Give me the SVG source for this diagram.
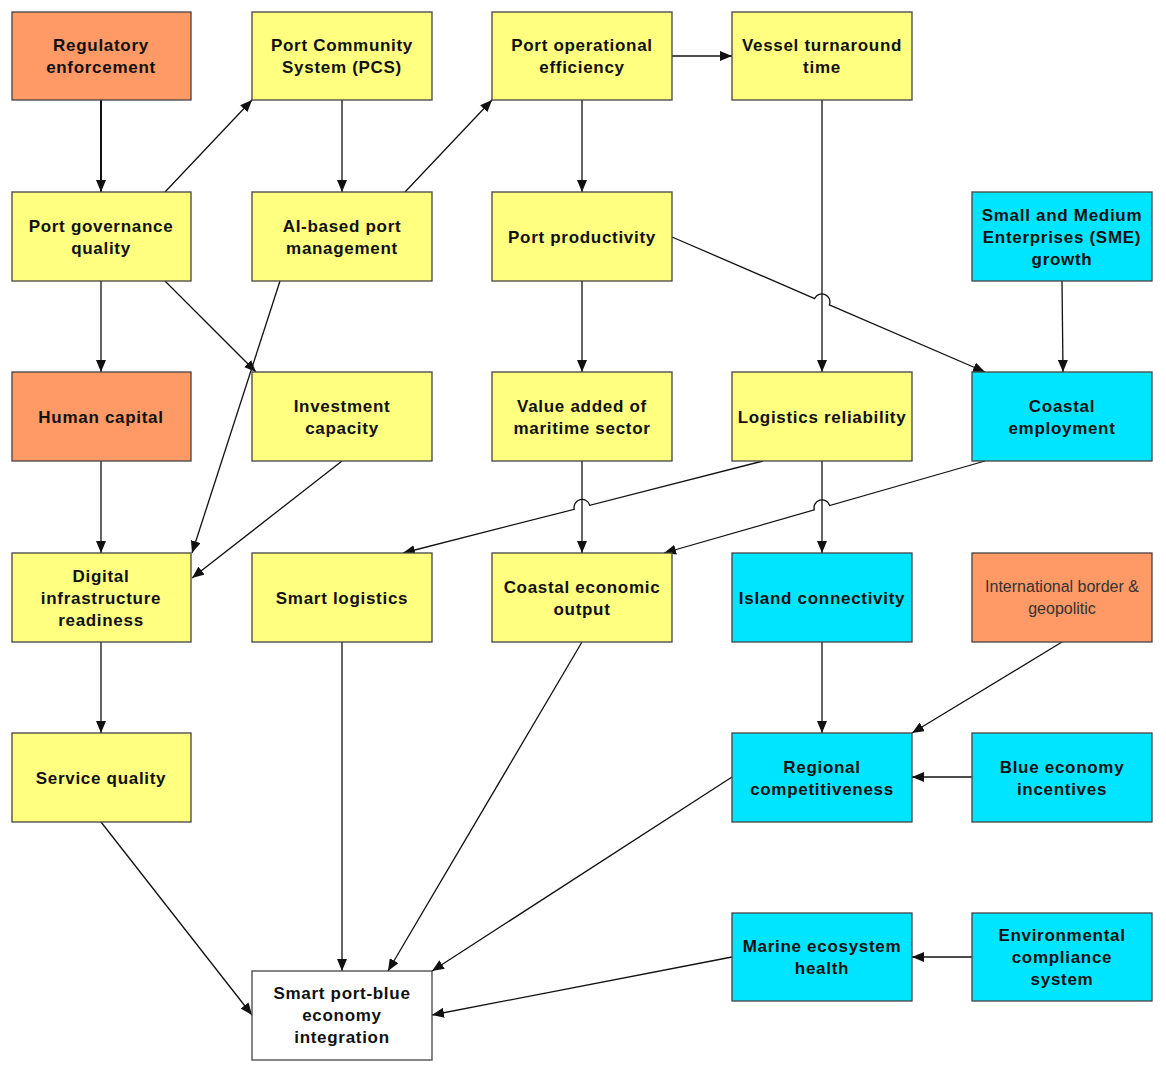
<svg xmlns="http://www.w3.org/2000/svg" width="1166" height="1072" viewBox="0 0 1166 1072">
<defs>
<marker id="ah" markerUnits="userSpaceOnUse" markerWidth="12" markerHeight="10" viewBox="0 0 12 10" refX="12" refY="5" orient="auto"><path d="M0,0 L12,5 L0,10 z" fill="#111"/></marker>
<style>
.b{stroke:#444;stroke-width:1.3}
.o{fill:#FF9966}.y{fill:#FFFF80}.c{fill:#00E5FF}.w{fill:#fff}
text{font-family:"Liberation Sans",Arial,sans-serif;font-size:17px;font-weight:bold;fill:#111;text-anchor:middle;letter-spacing:0.7px}
text.r{font-weight:normal;font-size:16px;letter-spacing:0;fill:#333}
#edges path{fill:none;stroke:#111;stroke-width:1.3;marker-end:url(#ah)}
#edges path.t{stroke-width:2}
</style>
</defs>
<rect width="1166" height="1072" fill="#fff"/>
<g id="edges">
<path class="t" d="M101,100 V192"/>
<path d="M165,192 L252,100"/>
<path d="M342,100 V192"/>
<path d="M405,192 L492,100"/>
<path d="M672,56 H732"/>
<path d="M582,100 V192"/>
<path d="M822,100 V372"/>
<path d="M672,237 L814.66,298.53 A8,8 0 0 1 829.34,304.87 L985,372"/>
<path d="M1062,281 L1063,372"/>
<path d="M101,281 V372"/>
<path d="M165,281 L256,372"/>
<path d="M280,281 L192,553"/>
<path d="M582,281 V372"/>
<path d="M101,461 V553"/>
<path d="M342,461 L192,578"/>
<path d="M763,461 L589.75,505.32 A8,8 0 0 0 574.25,509.28 L403,553"/>
<path d="M582,461 V553"/>
<path d="M985,461 L829.69,505.5 A8,8 0 0 0 814.31,509.9 L664,553"/>
<path d="M822,461 V553"/>
<path d="M101,642 V733"/>
<path d="M822,642 V733"/>
<path d="M1062,642 L912,733"/>
<path d="M972,777 H912"/>
<path d="M972,957 H912"/>
<path d="M101,822 L252,1015"/>
<path d="M342,642 V971"/>
<path d="M582,642 L388,971"/>
<path d="M732,777 L432,971"/>
<path d="M732,957 L432,1015"/>
</g>
<g id="n1"><rect class="b o" x="12" y="12" width="179" height="88"/><text x="101" y="51">Regulatory</text><text x="101" y="73">enforcement</text></g>
<g id="n2"><rect class="b y" x="252" y="12" width="180" height="88"/><text x="342" y="51">Port Community</text><text x="342" y="73">System (PCS)</text></g>
<g id="n3"><rect class="b y" x="492" y="12" width="180" height="88"/><text x="582" y="51">Port operational</text><text x="582" y="73">efficiency</text></g>
<g id="n4"><rect class="b y" x="732" y="12" width="180" height="88"/><text x="822" y="51">Vessel turnaround</text><text x="822" y="73">time</text></g>
<g id="n5"><rect class="b y" x="12" y="192" width="179" height="89"/><text x="101" y="232">Port governance</text><text x="101" y="254">quality</text></g>
<g id="n6"><rect class="b y" x="252" y="192" width="180" height="89"/><text x="342" y="232">AI-based port</text><text x="342" y="254">management</text></g>
<g id="n7"><rect class="b y" x="492" y="192" width="180" height="89"/><text x="582" y="243">Port productivity</text></g>
<g id="n8"><rect class="b c" x="972" y="192" width="180" height="89"/><text x="1062" y="221">Small and Medium</text><text x="1062" y="243">Enterprises (SME)</text><text x="1062" y="265">growth</text></g>
<g id="n9"><rect class="b o" x="12" y="372" width="179" height="89"/><text x="101" y="423">Human capital</text></g>
<g id="n10"><rect class="b y" x="252" y="372" width="180" height="89"/><text x="342" y="412">Investment</text><text x="342" y="434">capacity</text></g>
<g id="n11"><rect class="b y" x="492" y="372" width="180" height="89"/><text x="582" y="412">Value added of</text><text x="582" y="434">maritime sector</text></g>
<g id="n12"><rect class="b y" x="732" y="372" width="180" height="89"/><text x="822" y="423">Logistics reliability</text></g>
<g id="n13"><rect class="b c" x="972" y="372" width="180" height="89"/><text x="1062" y="412">Coastal</text><text x="1062" y="434">employment</text></g>
<g id="n14"><rect class="b y" x="12" y="553" width="179" height="89"/><text x="101" y="582">Digital</text><text x="101" y="604">infrastructure</text><text x="101" y="626">readiness</text></g>
<g id="n15"><rect class="b y" x="252" y="553" width="180" height="89"/><text x="342" y="604">Smart logistics</text></g>
<g id="n16"><rect class="b y" x="492" y="553" width="180" height="89"/><text x="582" y="593">Coastal economic</text><text x="582" y="615">output</text></g>
<g id="n17"><rect class="b c" x="732" y="553" width="180" height="89"/><text x="822" y="604">Island connectivity</text></g>
<g id="n18"><rect class="b o" x="972" y="553" width="180" height="89"/><text class="r" x="1062" y="592">International border &amp;</text><text class="r" x="1062" y="614">geopolitic</text></g>
<g id="n19"><rect class="b y" x="12" y="733" width="179" height="89"/><text x="101" y="784">Service quality</text></g>
<g id="n20"><rect class="b c" x="732" y="733" width="180" height="89"/><text x="822" y="773">Regional</text><text x="822" y="795">competitiveness</text></g>
<g id="n21"><rect class="b c" x="972" y="733" width="180" height="89"/><text x="1062" y="773">Blue economy</text><text x="1062" y="795">incentives</text></g>
<g id="n22"><rect class="b c" x="732" y="913" width="180" height="88"/><text x="822" y="952">Marine ecosystem</text><text x="822" y="974">health</text></g>
<g id="n23"><rect class="b c" x="972" y="913" width="180" height="88"/><text x="1062" y="941">Environmental</text><text x="1062" y="963">compliance</text><text x="1062" y="985">system</text></g>
<g id="n24"><rect class="b w" x="252" y="971" width="180" height="89"/><text x="342" y="999">Smart port-blue</text><text x="342" y="1021">economy</text><text x="342" y="1043">integration</text></g>
</svg>
